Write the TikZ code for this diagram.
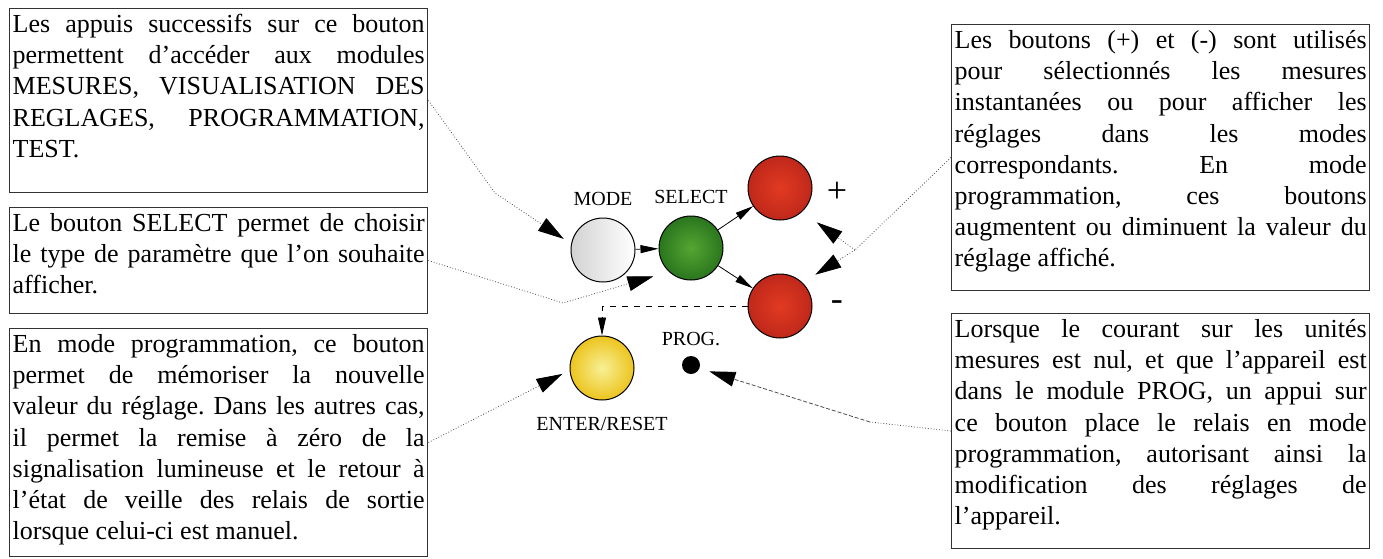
\documentclass[tikz,border=0pt]{standalone}
\usepackage{fontspec}
\setmainfont{Liberation Serif}
\usetikzlibrary{positioning,arrows.meta}
\tolerance=10000
\hyphenpenalty=10000
\frenchspacing

\definecolor{btnred}{RGB}{192,40,26}
\definecolor{btnredin}{RGB}{225,58,34}
\definecolor{btngreen}{RGB}{42,118,30}
\definecolor{btngreenin}{RGB}{85,165,50}
\definecolor{btnyellow}{RGB}{236,196,30}
\definecolor{btnyellowin}{RGB}{248,240,150}

\tikzset{
  txtbox/.style={draw=black!80, line width=0.5pt, anchor=north west, text width=206pt,
    inner xsep=1.6pt, inner ysep=5pt, text height=7pt, align=justify,
    font=\fontsize{13}{15.6}\selectfont},
  btn/.style={circle, draw, line width=0.5pt, minimum size=32pt, inner sep=0pt},
  lbl/.style={inner sep=0pt, font=\fontsize{10}{12}\selectfont},
  sign/.style={inner sep=0pt, font=\fontsize{18}{20}\selectfont},
  lead/.style={densely dotted, line width=0.4pt, black!70},
  bigtip/.style={-{Triangle[length=13pt,width=7.5pt,color=black]}},
  smalltip/.style={-{Triangle[length=9pt,width=4pt]}}
}

\begin{document}
\begin{tikzpicture}[x=0.5pt, y=-0.5pt]
  \useasboundingbox (0,0) rectangle (1383,558);
  \node[txtbox, text depth=75pt] (modenote) at (9,8) {Les appuis successifs sur ce bouton\linebreak
    permettent d’accéder aux modules\linebreak
    MESURES, VISUALISATION DES\linebreak
    REGLAGES, PROGRAMMATION,\linebreak
    TEST.};
  \node[txtbox, text depth=36pt] (selectnote) at (9,207) {Le bouton SELECT permet de choisir\linebreak
    le type de paramètre que l’on souhaite\linebreak
    afficher.};
  \node[txtbox, text depth=97pt] (enternote) at (9,328) {En mode programmation, ce bouton\linebreak
    permet de mémoriser la nouvelle\linebreak
    valeur du réglage. Dans les autres cas,\linebreak
    il permet la remise à zéro de la\linebreak
    signalisation lumineuse et le retour à\linebreak
    l’état de veille des relais de sortie\linebreak
    lorsque celui-ci est manuel.};
  \node[txtbox, text depth=116pt] (signnote) at (951,24) {Les boutons (+) et (-) sont utilisés\linebreak
    pour sélectionnés les mesures\linebreak
    instantanées ou pour afficher les\linebreak
    réglages dans les modes\linebreak
    correspondants. En mode\linebreak
    programmation, ces boutons\linebreak
    augmentent ou diminuent la valeur du\linebreak
    réglage affiché.};
  \node[txtbox, text depth=100.5pt] (prognote) at (951,313) {Lorsque le courant sur les unités\linebreak
    mesures est nul, et que l’appareil est\linebreak
    dans le module PROG, un appui sur\linebreak
    ce bouton place le relais en mode\linebreak
    programmation, autorisant ainsi la\linebreak
    modification des réglages de\linebreak
    l’appareil.};

  \node[btn, left color=gray!35, right color=white] (mode) at (603,250) {};
  \node[btn, inner color=btngreenin, outer color=btngreen] (select) at (691,248) {};
  \node[btn, inner color=btnredin, outer color=btnred] (plus) at (780,188) {};
  \node[btn, inner color=btnredin, outer color=btnred] (minus) at (780,306) {};
  \node[btn, inner color=btnyellowin, outer color=btnyellow] (enter) at (602,368) {};
  \node[circle, fill, minimum size=9pt, inner sep=0pt] (prog) at (691,365) {};

  \node[lbl, above=5.5pt of mode] (modelbl) {MODE};
  \node[lbl, above=5.5pt of select] (selectlbl) {SELECT};
  \node[lbl, above=4.5pt of prog] (proglbl) {PROG.};
  \node[lbl, below=8pt of enter] (enterlbl) {ENTER/RESET};
  \node[sign, right=7pt of plus, yshift=-2pt] (plussign) {+};
  \node[sign, right=9pt of minus] (minussign) {-};

  \draw[smalltip] (mode) -- (select);
  \draw[smalltip] (select) -- (plus);
  \draw[smalltip] (select) -- (minus);
  \draw[dashed, smalltip] (minus.west) -| (enter.north);

  \coordinate (b1) at (495,193);
  \coordinate (b2) at (563,303);
  \coordinate (b4) at (855,250);
  \coordinate (b5) at (870,422);
  \draw[lead, bigtip, shorten >=4.4pt] (modenote.east) -- (b1) -- (mode.169);
  \draw[lead, bigtip, shorten >=8pt] (selectnote.east) -- (b2) -- (select.227);
  \draw[lead, bigtip, shorten >=4pt] (enternote.east) -- (enter.184);
  \draw[lead] (signnote.west) -- (b4);
  \draw[lead, bigtip, shorten >=9pt] (b4) -- (plus.313);
  \draw[lead, bigtip, shorten >=7.5pt] (b4) -- (minus.46);
  \draw[lead] (prognote.west) -- (b5);
  \draw[lead, dash pattern=on 2pt off 1pt, bigtip, shorten >=5pt] (b5) -- (prog.339);
\end{tikzpicture}
\end{document}
